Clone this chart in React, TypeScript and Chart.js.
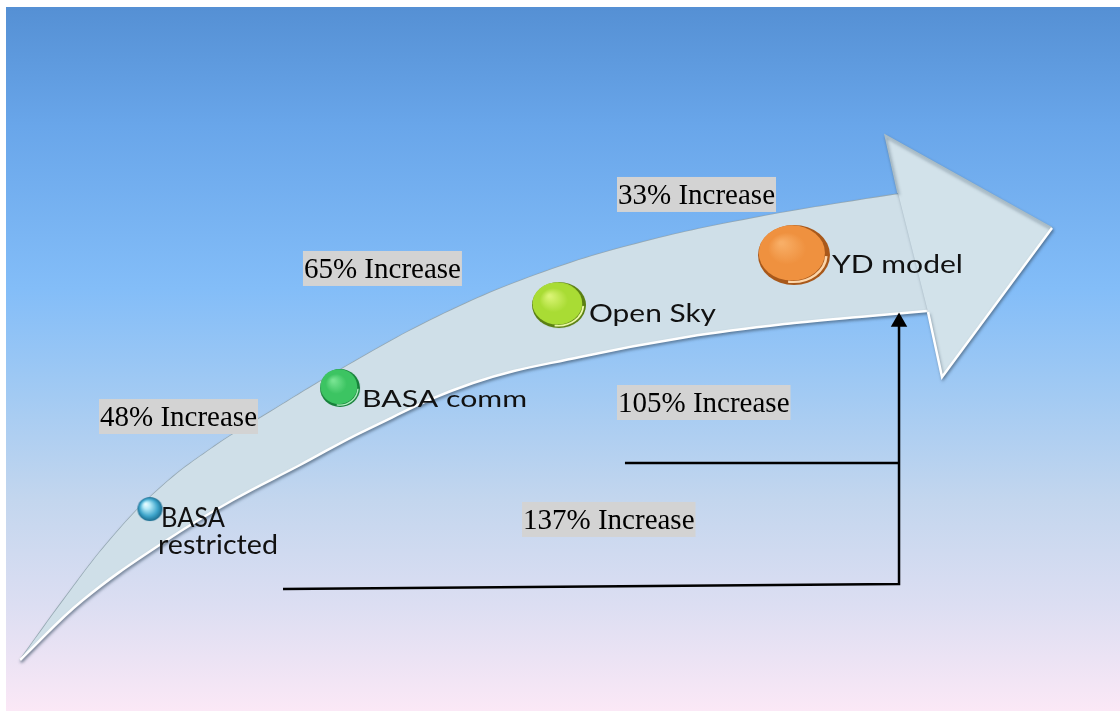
import React, { useEffect, useRef } from 'react';
import { Chart, registerables } from 'chart.js';

Chart.register(...registerables);

// ---- data (abstract 0..100 units on both axes) ----
const stageNames = ['BASA restricted', 'BASA comm', 'Open Sky', 'YD model'];
const stageLabelLines = [['BASA', 'restricted'], ['BASA comm'], ['Open Sky'], ['YD model']];
const stageX = [13.39, 30.36, 49.91, 70.89];
const stageY = [28.41, 45.43, 57.1, 64.14];

const increaseLabels = ['48% Increase', '65% Increase', '33% Increase', '105% Increase', '137% Increase'];
const increaseX = [8.84, 27.05, 55.09, 55.09, 46.61];
const increaseY = [43.88, 64.7, 75.11, 45.85, 29.4];

const arrowUpperX = [1.79, 5.8, 9.82, 14.29, 19.2, 24.11, 29.73, 39.02, 48.57, 58.13, 67.77, 76.79, 83.93];
const arrowUpperY = [7.17, 15.89, 24.05, 31.36, 37.27, 42.05, 47.4, 55.41, 61.74, 66.24, 69.48, 71.87, 73.56];
const arrowLowerX = [1.79, 7.41, 14.91, 20.8, 26.79, 32.68, 42.23, 51.79, 61.34, 70.89, 77.68, 84.82];
const arrowLowerY = [7.17, 15.61, 24.05, 29.68, 34.6, 39.52, 46.13, 49.79, 52.6, 54.57, 55.56, 56.54];
const arrowHeadX = [80.18, 79.02, 93.93, 84.11, 82.86];
const arrowHeadY = [72.86, 81.01, 67.93, 46.98, 56.12];

const link137X = [25.27, 80.27, 80.27];
const link137Y = [17.16, 17.86, 54.71];
const link105X = [55.8, 80.27];
const link105Y = [34.88, 34.88];

// ---- styling ----
const BALL_STYLE = [
  { rx: 12.5, ry: 12, light: '#b5eaf8', base: '#3fa6cc', dark: '#1b6c8f', rim: '#9fdcf0', sphere: true },
  { rx: 20, ry: 19, light: '#78e492', base: '#3cc462', dark: '#17803a', rim: '#b0f2c0', sphere: false },
  { rx: 27, ry: 23, light: '#daf474', base: '#a9dc34', dark: '#5a7f12', rim: '#eefca8', sphere: false },
  { rx: 36, ry: 30, light: '#f8ae66', base: '#ef913f', dark: '#a8581a', rim: '#fdd6aa', sphere: false },
];
const NAME_STYLE = [
  { size: 26, lines: [{ dx: 11, dy: 18, w: 64 }, { dx: 8, dy: 45, w: 120 }] },
  { size: 24, lines: [{ dx: 22, dy: 19, w: 165 }] },
  { size: 25, lines: [{ dx: 30, dy: 17, w: 127 }] },
  { size: 25, lines: [{ dx: 38, dy: 18, w: 131 }] },
];
const PANEL = { left: 6, top: 7 };

const toPts = (xs: number[], ys: number[]) => xs.map((x, i) => ({ x, y: ys[i] }));

function makeBall(s: typeof BALL_STYLE[number]): HTMLCanvasElement {
  const c = document.createElement('canvas');
  c.width = Math.ceil(2 * s.rx + 4);
  c.height = Math.ceil(2 * s.ry + 4);
  const g = c.getContext('2d')!;
  const r = s.rx;
  g.translate(c.width / 2, c.height / 2);
  g.scale(1, s.ry / s.rx);
  if (s.sphere) {
    const grad = g.createRadialGradient(-r * 0.35, -r * 0.4, r * 0.05, 0, 0, r);
    grad.addColorStop(0, '#e8fbff');
    grad.addColorStop(0.25, s.light);
    grad.addColorStop(0.7, s.base);
    grad.addColorStop(1, s.dark);
    g.beginPath();
    g.arc(0, 0, r, 0, Math.PI * 2);
    g.fillStyle = grad;
    g.fill();
  } else {
    g.beginPath();
    g.arc(0, 0, r, 0, Math.PI * 2);
    g.fillStyle = s.dark;
    g.fill();
    const fr = r * 0.92;
    const grad = g.createRadialGradient(-r * 0.35, -r * 0.4, r * 0.05, -r * 0.06, -r * 0.06, fr);
    grad.addColorStop(0, s.light);
    grad.addColorStop(0.55, s.base);
    grad.addColorStop(1, s.base);
    g.beginPath();
    g.arc(-r * 0.06, -r * 0.07, fr, 0, Math.PI * 2);
    g.fillStyle = grad;
    g.fill();
    g.beginPath();
    g.arc(-r * 0.02, -r * 0.02, r * 0.92, 0.02 * Math.PI, 0.55 * Math.PI);
    g.strokeStyle = s.rim;
    g.lineWidth = r * 0.07;
    g.stroke();
  }
  return c;
}

function clearShadow(ctx: CanvasRenderingContext2D) {
  ctx.shadowColor = 'rgba(0,0,0,0)';
  ctx.shadowBlur = 0;
  ctx.shadowOffsetX = 0;
  ctx.shadowOffsetY = 0;
}

const infographicPlugin = {
  id: 'infographic',
  beforeDraw(chart: any) {
    const { ctx, width, height } = chart;
    ctx.save();
    ctx.fillStyle = '#ffffff';
    ctx.fillRect(0, 0, width, height);
    const g = ctx.createLinearGradient(0, PANEL.top, 0, height);
    g.addColorStop(0, '#5590d4');
    g.addColorStop(0.17, '#69a6ea');
    g.addColorStop(0.4, '#83bdf8');
    g.addColorStop(0.55, '#a2caf3');
    g.addColorStop(0.7, '#c3d6ee');
    g.addColorStop(0.85, '#dcdef2');
    g.addColorStop(1, '#fbe8f6');
    ctx.fillStyle = g;
    ctx.fillRect(PANEL.left, PANEL.top, width - PANEL.left, height - PANEL.top);
    ctx.restore();
  },
  beforeDatasetsDraw(chart: any) {
    const ctx = chart.ctx;
    ctx.shadowColor = 'rgba(60,80,100,0.5)';
    ctx.shadowBlur = 3;
    ctx.shadowOffsetX = 1;
    ctx.shadowOffsetY = 2;
  },
  afterDatasetDraw(chart: any, args: any) {
    if (chart.data.datasets[args.index].label === 'headLower') clearShadow(chart.ctx);
  },
  afterDatasetsDraw(chart: any) {
    const ctx = chart.ctx as CanvasRenderingContext2D;
    clearShadow(ctx);
    const xs = chart.scales.x;
    const ys = chart.scales.y;
    ctx.save();
    // percent labels
    ctx.font = '29px "Liberation Serif", "Times New Roman", serif';
    ctx.textBaseline = 'alphabetic';
    increaseLabels.forEach((t, i) => {
      const x = xs.getPixelForValue(increaseX[i]);
      const y = ys.getPixelForValue(increaseY[i]);
      const w = ctx.measureText(t).width + 2;
      ctx.fillStyle = '#d3d3d3';
      ctx.fillRect(x, y, w, 35);
      ctx.fillStyle = '#000000';
      ctx.fillText(t, x + 1, y + 27);
    });
    // stage names
    const meta = chart.getDatasetMeta(chart.data.datasets.findIndex((d: any) => d.label === 'stages'));
    stageLabelLines.forEach((lines, i) => {
      const pt = meta.data[i];
      const st = NAME_STYLE[i];
      ctx.font = `${st.size}px Lato, "Open Sans", sans-serif`;
      ctx.fillStyle = '#111111';
      lines.forEach((t, j) => {
        const l = st.lines[j];
        const w = ctx.measureText(t).width;
        ctx.save();
        ctx.translate(pt.x + l.dx, pt.y + l.dy);
        ctx.scale(l.w / w, 1);
        ctx.fillText(t, 0, 0);
        ctx.restore();
      });
    });
    ctx.restore();
  },
};

export default function App() {
  const ref = useRef<HTMLCanvasElement>(null);
  useEffect(() => {
    const balls = BALL_STYLE.map(makeBall);
    const chart = new Chart(ref.current!, {
      type: 'scatter',
      data: {
        datasets: [
          {
            label: 'upper',
            data: toPts(arrowUpperX, arrowUpperY),
            showLine: true,
            tension: 0.4,
            borderColor: '#97aab4',
            borderWidth: 1.6,
            pointRadius: 0,
            fill: false,
            order: 20,
          },
          {
            label: 'lower',
            data: toPts(arrowLowerX, arrowLowerY),
            showLine: true,
            tension: 0.4,
            borderColor: '#ffffff',
            borderWidth: 2.5,
            pointRadius: 0,
            fill: '-1',
            backgroundColor: '#cfdfe8',
            order: 19,
          },
          {
            label: 'head',
            data: toPts(arrowHeadX, arrowHeadY),
            showLine: true,
            tension: 0,
            borderWidth: 0,
            borderColor: 'rgba(0,0,0,0)',
            pointRadius: 0,
            fill: 'shape',
            backgroundColor: '#d2e2ea',
            order: 18,
          },
          {
            label: 'headUpper',
            data: toPts(arrowHeadX.slice(0, 3), arrowHeadY.slice(0, 3)),
            showLine: true,
            tension: 0,
            borderColor: '#a9bcc6',
            borderWidth: 1.5,
            pointRadius: 0,
            order: 17,
          },
          {
            label: 'headLower',
            data: toPts(arrowHeadX.slice(2), arrowHeadY.slice(2)),
            showLine: true,
            tension: 0,
            borderColor: '#ffffff',
            borderWidth: 2.5,
            pointRadius: 0,
            order: 16,
          },
          {
            label: 'link137',
            data: toPts(link137X, link137Y),
            showLine: true,
            tension: 0,
            borderColor: '#000000',
            borderWidth: 2.5,
            pointRadius: [0, 0, 9.5],
            pointStyle: 'triangle',
            pointBackgroundColor: '#000000',
            pointBorderColor: '#000000',
            pointBorderWidth: 0,
            order: 5,
          },
          {
            label: 'link105',
            data: toPts(link105X, link105Y),
            showLine: true,
            tension: 0,
            borderColor: '#000000',
            borderWidth: 2.5,
            pointRadius: 0,
            order: 5,
          },
          {
            label: 'stages',
            data: toPts(stageX, stageY),
            showLine: false,
            pointStyle: balls as any,
            pointRadius: BALL_STYLE.map((b) => b.rx),
            order: 1,
          },
        ] as any,
      },
      options: {
        responsive: false,
        maintainAspectRatio: false,
        animation: false,
        devicePixelRatio: 1,
        events: [],
        layout: { padding: 0, autoPadding: false },
        scales: {
          x: { type: 'linear', min: 0, max: 100, display: false },
          y: { type: 'linear', min: 0, max: 100, display: false },
        },
        plugins: {
          legend: { display: false },
          tooltip: { enabled: false },
        },
      },
      plugins: [infographicPlugin],
    });
    let alive = true;
    if ((document as any).fonts && (document as any).fonts.load) {
      Promise.all([
        (document as any).fonts.load('24px Lato'),
        (document as any).fonts.load('29px "Liberation Serif"'),
      ]).then(() => {
        if (alive) chart.draw();
      }).catch(() => {});
    }
    return () => {
      alive = false;
      chart.destroy();
    };
  }, []);
  return (
    <div style={{ position: 'absolute', left: 0, top: 0, width: 1120, height: 711 }}>
      <canvas ref={ref} width={1120} height={711} style={{ display: 'block', width: 1120, height: 711 }} aria-label={stageNames.join(', ')} />
    </div>
  );
}
